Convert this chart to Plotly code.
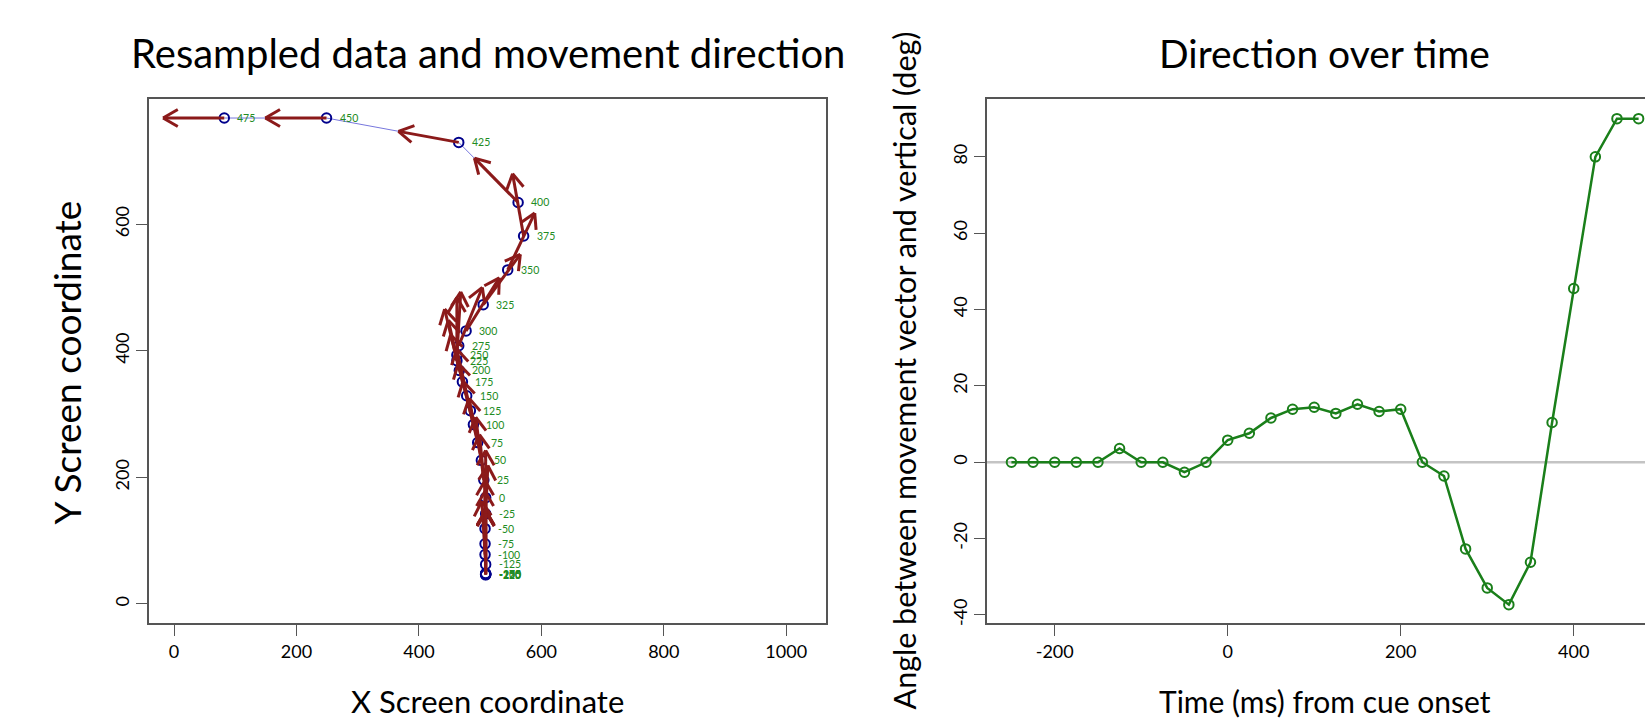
import numpy as np
import plotly.graph_objects as go

# ---------------- data ----------------
times = [-250, -225, -200, -175, -150, -125, -100, -75, -50, -25,
         0, 25, 50, 75, 100, 125, 150, 175, 200, 225,
         250, 275, 300, 325, 350, 375, 400, 425, 450, 475]
x_pos = [509, 509, 509, 509, 509, 509, 508, 508, 508, 509,
         509, 506, 502, 496, 489, 484, 478, 471, 466, 462,
         462, 465, 477, 505, 545, 571, 562, 465, 249, 82]
y_pos = [46, 46.5, 47, 47.5, 48, 62.5, 78, 95, 119, 142.5,
         168, 196, 227, 255, 283.5, 305.5, 329, 351, 369, 384.5,
         393.5, 408, 431.5, 473, 528, 581.5, 634.5, 729.5, 768, 768]
angles = [0, 0, 0, 0, 0, 3.6, 0, 0, -2.6, 0,
          5.8, 7.6, 11.6, 13.9, 14.4, 12.8, 15.2, 13.3, 13.9, 0,
          -3.6, -22.7, -32.9, -37.3, -26.2, 10.4, 45.5, 80, 90, 90]

left_x_ticks = [0, 200, 400, 600, 800, 1000]
left_y_ticks = [0, 200, 400, 600]
right_x_ticks = [-200, 0, 200, 400]
right_y_ticks = [-40, -20, 0, 20, 40, 60, 80]

# ---------------- layout geometry ----------------
W, H = 1645, 721
L_x0, L_x1, L_y0, L_y1 = 149, 826, 99, 626      # left plot box (px)
R_x0, R_x1 = 986.7, 1645                          # right plot box (px)
xr_left = [-40.96, 1064.96]
yr_left = [-30.72, 798.72]
xr_right = [-278.6, 482.4]
yr_right = [-42.2, 95.25]

kx = (L_x1 - L_x0) / (xr_left[1] - xr_left[0])    # px per data unit
ky = (L_y1 - L_y0) / (yr_left[1] - yr_left[0])

ARROW_LEN = 100.0
HEAD_PX = 17.0
HEAD_ANG = np.radians(30)

xs = np.array(x_pos, float)
ys = np.array(y_pos, float)
a = np.radians(np.array(angles, float))
tx = xs - ARROW_LEN * np.sin(a)
ty = ys + ARROW_LEN * np.cos(a)

arrow_x, arrow_y = [], []
for i in range(len(xs)):
    dxp = (tx[i] - xs[i]) * kx
    dyp = (ty[i] - ys[i]) * ky
    n = np.hypot(dxp, dyp)
    ux, uy = dxp / n, dyp / n
    arrow_x += [xs[i], tx[i], None]
    arrow_y += [ys[i], ty[i], None]
    for s in (1, -1):
        c, sn = np.cos(s * HEAD_ANG), np.sin(s * HEAD_ANG)
        bx = -(ux * c - uy * sn) * HEAD_PX
        by = -(ux * sn + uy * c) * HEAD_PX
        arrow_x += [tx[i], tx[i] + bx / kx, None]
        arrow_y += [ty[i], ty[i] + by / ky, None]

FONT = "Lato"
BLUE = "#00008B"
RED = "#8B1A1A"
GREEN = "#1a7f1a"
AXC = "#555555"

fig = go.Figure()

fig.add_trace(go.Scatter(x=x_pos, y=y_pos, mode="lines",
                         line=dict(color="#7777dd", width=1),
                         xaxis="x", yaxis="y", hoverinfo="skip"))
fig.add_trace(go.Scatter(x=x_pos, y=y_pos, mode="markers",
                         marker=dict(symbol="circle-open", size=9.5, color=BLUE,
                                     line=dict(width=2, color=BLUE)),
                         xaxis="x", yaxis="y"))
fig.add_trace(go.Scatter(x=arrow_x, y=arrow_y, mode="lines",
                         line=dict(color=RED, width=3),
                         xaxis="x", yaxis="y", hoverinfo="skip"))

fig.add_trace(go.Scatter(x=times, y=angles, mode="lines+markers",
                         line=dict(color=GREEN, width=2.5),
                         marker=dict(symbol="circle-open", size=9.5, color=GREEN,
                                     line=dict(width=2, color=GREEN)),
                         xaxis="x2", yaxis="y2"))

ann = []
for t, xv, yv in zip(times, x_pos, y_pos):
    ann.append(dict(x=xv, y=yv, xref="x", yref="y", text=str(t), showarrow=False,
                    xanchor="left", yanchor="middle", xshift=11,
                    font=dict(family=FONT, size=10.5, color="#228B22")))

def paper_x(px):
    return px / W

def paper_y(py):
    return 1 - py / H

ann += [
    dict(x=paper_x(487.5), y=paper_y(53), xref="paper", yref="paper",
         text="Resampled data and movement direction", showarrow=False,
         xanchor="center", yanchor="middle", font=dict(family=FONT, size=40, color="black")),
    dict(x=paper_x(1324.5), y=paper_y(53), xref="paper", yref="paper",
         text="Direction over time", showarrow=False,
         xanchor="center", yanchor="middle", font=dict(family=FONT, size=39, color="black")),
    dict(x=paper_x(487.5), y=paper_y(704), xref="paper", yref="paper",
         text="X Screen coordinate", showarrow=False,
         xanchor="center", yanchor="middle", font=dict(family=FONT, size=31, color="black")),
    dict(x=paper_x(1324.5), y=paper_y(704), xref="paper", yref="paper",
         text="Time (ms) from cue onset", showarrow=False,
         xanchor="center", yanchor="middle", font=dict(family=FONT, size=30, color="black")),
    dict(x=paper_x(66), y=paper_y(364), xref="paper", yref="paper",
         text="Y Screen coordinate", showarrow=False, textangle=-90,
         xanchor="center", yanchor="middle", font=dict(family=FONT, size=37, color="black")),
    dict(x=paper_x(904), y=paper_y(372), xref="paper", yref="paper",
         text="Angle between movement vector and vertical (deg)", showarrow=False, textangle=-90,
         xanchor="center", yanchor="middle", font=dict(family=FONT, size=30.5, color="black")),
]

axis_common = dict(showgrid=False, zeroline=False, showline=True, linecolor=AXC, linewidth=1.5,
                   ticks="outside", ticklen=11, tickwidth=1.2, tickcolor=AXC,
                   tickfont=dict(family=FONT, size=18, color="black"), fixedrange=True)

fig.update_layout(
    width=W, height=H, margin=dict(l=0, r=0, t=0, b=0),
    paper_bgcolor="white", plot_bgcolor="white", showlegend=False,
    xaxis=dict(domain=[paper_x(L_x0), paper_x(L_x1)], range=xr_left, tickmode="array",
               tickvals=left_x_ticks, ticktext=[str(v) for v in left_x_ticks],
               mirror=True, anchor="y", **axis_common),
    yaxis=dict(domain=[paper_y(L_y1), paper_y(L_y0)], range=yr_left, tickmode="array",
               tickvals=left_y_ticks, ticktext=[str(v) for v in left_y_ticks],
               mirror=True, anchor="x", tickangle=-90, **axis_common),
    xaxis2=dict(domain=[paper_x(R_x0), 1.0], range=xr_right, tickmode="array",
                tickvals=right_x_ticks, ticktext=[str(v) for v in right_x_ticks],
                mirror=True, anchor="y2", **axis_common),
    yaxis2=dict(domain=[paper_y(L_y1), paper_y(L_y0)], range=yr_right, tickmode="array",
                tickvals=right_y_ticks, ticktext=[str(v) for v in right_y_ticks],
                mirror=False, anchor="x2", tickangle=-90, **axis_common),
    annotations=ann,
    shapes=[dict(type="line", xref="x2 domain", yref="y2", x0=0, x1=1, y0=0, y1=0,
                 line=dict(color="#c4c4c4", width=2.5), layer="below")],
)

fig.write_html("out.html")
